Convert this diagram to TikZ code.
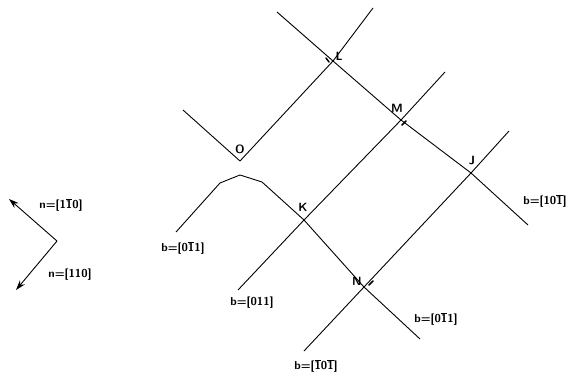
\documentclass[tikz,border=0pt]{standalone}
\usepackage{tikz}
\usetikzlibrary{arrows.meta}
\newcommand{\ob}[1]{$\overline{\mbox{#1}}$}

\begin{document}
\begin{tikzpicture}[
    x=1pt, y=-1pt,
    disloc/.style={line width=0.9pt, line join=round},
    burgers/.style={font=\sffamily\bfseries\fontsize{11.5}{13}\selectfont, inner sep=0pt},
    junction/.style={font=\sffamily\bfseries\fontsize{12}{14}\selectfont, inner sep=0pt},
    sense/.style={line width=1.5pt, line cap=round},
    normal arrow/.style={line width=0.9pt, -{Stealth[length=10pt, width=6.5pt]}}
  ]
  \useasboundingbox (0,0) rectangle (569,375);

  % junction points
  \coordinate (O) at (240,161);
  \coordinate (L) at (333,61);
  \coordinate (M) at (401,120);
  \coordinate (J) at (471,173);
  \coordinate (K) at (304,220);
  \coordinate (N) at (364,287);

  % free ends
  \coordinate (top_l) at (277,12);
  \coordinate (end_j) at (528,225);
  \coordinate (top_o) at (373,8);
  \coordinate (left_o) at (183,110);
  \coordinate (top_m) at (445,72);
  \coordinate (bot_k) at (238,290);
  \coordinate (top_j) at (509,131);
  \coordinate (bot_n) at (304,351);
  \coordinate (end_n) at (420,339);

  % bowed segment left of K
  \coordinate (bow_a) at (176,232);
  \coordinate (bow_b) at (220,183);
  \coordinate (bow_c) at (240,175);
  \coordinate (bow_d) at (262,182);

  \draw[disloc] (top_l) -- (L) -- (M) -- (J) -- (end_j);
  \draw[disloc] (left_o) -- (O) -- (L) -- (top_o);
  \draw[disloc] (bot_k) -- (K) -- (M) -- (top_m);
  \draw[disloc] (bot_n) -- (N) -- (J) -- (top_j);
  \draw[disloc] (bow_a) -- (bow_b) -- (bow_c) -- (bow_d) -- (K) -- (N) -- (end_n);

  \draw[sense] (L) ++(-7,-3) -- ++(3,4);
  \draw[sense] (M) ++(1,5) -- ++(4,-4);
  \draw[sense] (N) ++(5,-2) -- ++(4,-4);

  \node[junction] (lab_o) at (240,149) {O};
  \node[junction] (lab_l) at (339,56) {L};
  \node[junction] (lab_m) at (397,108) {M};
  \node[junction] (lab_j) at (472,160) {J};
  \node[junction] (lab_k) at (303,207) {K};
  \node[junction] (lab_n) at (357,281) {N};

  \node[burgers] (b_left) at (183,248) {b=[0\ob{1}1]};
  \node[burgers] (b_011) at (252,303) {b=[011]};
  \node[burgers] (b_bot) at (316,366) {b=[\ob{1}0\ob{1}]};
  \node[burgers] (b_right) at (436,319) {b=[0\ob{1}1]};
  \node[burgers] (b_j) at (545,201) {b=[10\ob{1}]};

  % plane normals
  \coordinate (n_o) at (57,241);
  \coordinate (n_up) at (9,199);
  \coordinate (n_dn) at (16,290);
  \draw[normal arrow] (n_o) -- (n_up);
  \draw[normal arrow] (n_o) -- (n_dn);
  \node[burgers] (n_a) at (61,205) {n=[1\ob{1}0]};
  \node[burgers] (n_b) at (70,275) {n=[110]};

\end{tikzpicture}
\end{document}
